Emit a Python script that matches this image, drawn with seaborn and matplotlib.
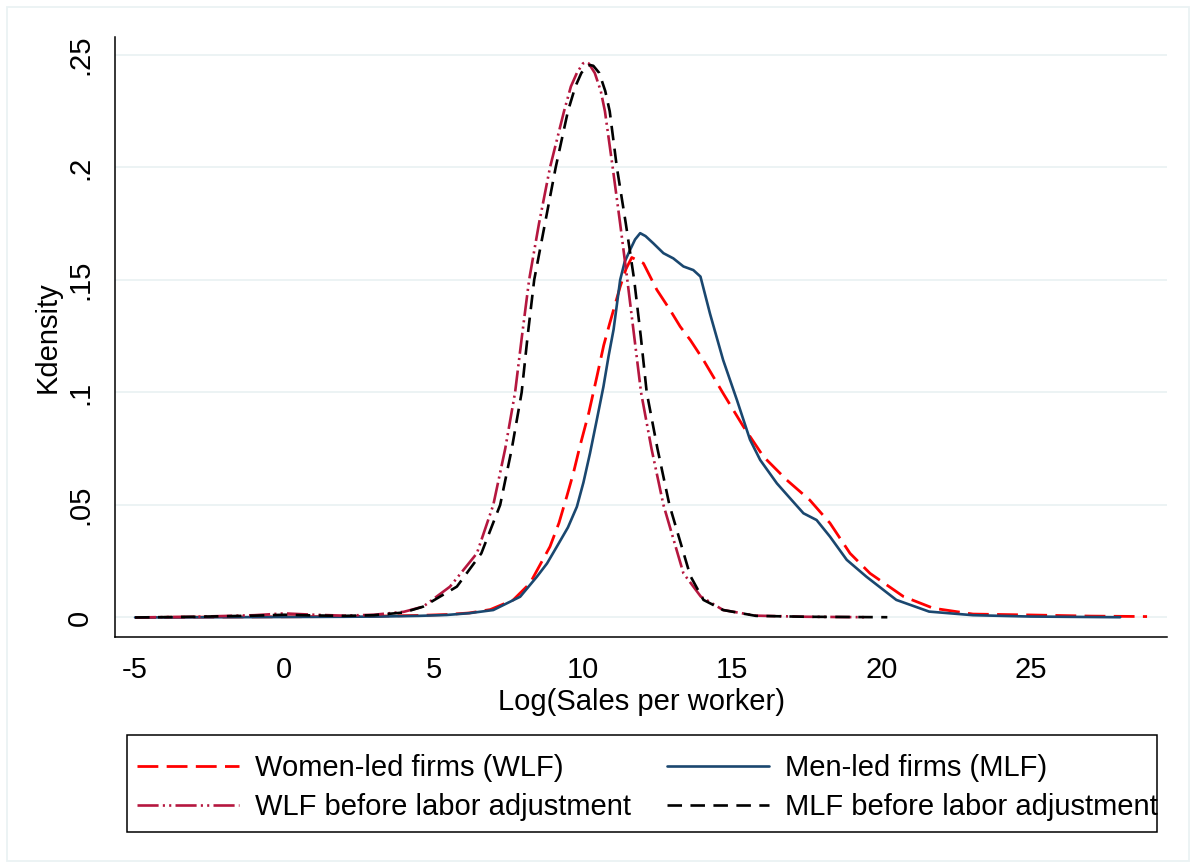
import matplotlib
matplotlib.use("Agg")
import matplotlib.pyplot as plt
import seaborn as sns
from matplotlib.patches import Rectangle

sns.set_style("white")
plt.rcParams['font.family'] = ['Liberation Sans', 'DejaVu Sans']
plt.rcParams['text.color'] = 'black'
plt.rcParams['axes.labelcolor'] = 'black'
plt.rcParams['xtick.color'] = 'black'
plt.rcParams['ytick.color'] = 'black'

# Women-led firms (WLF)
wlf_x = [-5, -2, 0, 2, 3.2, 4.5, 5.44, 6.2, 6.9, 7.67, 8.23, 8.9, 9.2, 9.46,
         9.68, 9.9, 10.2, 10.47, 10.7, 10.9, 11.25, 11.45, 11.64, 12.03, 12.48,
         12.92, 13.26, 13.6, 14.04, 14.7, 15.38, 16.05, 16.83, 17.6, 18.28,
         18.95, 19.62, 20.74, 21.74, 23.07, 25, 27, 28.9]
wlf_y = [0, 0.0002, 0.0003, 0.0004, 0.0006, 0.0009, 0.0013, 0.002, 0.0035,
         0.0078, 0.0152, 0.0315, 0.042, 0.0537, 0.064, 0.076, 0.091, 0.107,
         0.121, 0.1307, 0.147, 0.155, 0.160, 0.1574, 0.1456, 0.1367, 0.1293,
         0.1233, 0.1144, 0.0996, 0.0848, 0.0715, 0.0611, 0.0522, 0.0419,
         0.0285, 0.0196, 0.0093, 0.0041, 0.0015, 0.0011, 0.0006, 0.0004]

# Men-led firms (MLF)
mlf_x = [-5, -2, 0, 2, 3.2, 4.5, 5.44, 6.2, 7.0, 7.9, 8.46, 8.8, 9.13, 9.5,
         9.8, 10.02, 10.24, 10.47, 10.69, 10.86, 11.03, 11.25, 11.4, 11.58,
         11.75, 11.92, 12.1, 12.36, 12.7, 13.03, 13.37, 13.7, 13.94, 14.26,
         14.7, 15.16, 15.6, 15.94, 16.5, 16.94, 17.39, 17.83, 18.28, 18.84,
         19.5, 20.5, 21.6, 23.07, 25, 28]
mlf_y = [0, 0.0001, 0.0002, 0.0003, 0.0004, 0.0007, 0.0011, 0.0019, 0.0033,
         0.0092, 0.0181, 0.024, 0.0315, 0.040, 0.0492, 0.060, 0.073, 0.088,
         0.1026, 0.116, 0.128, 0.15, 0.158, 0.1633, 0.168, 0.1708, 0.1695,
         0.1663, 0.1619, 0.1596, 0.156, 0.1544, 0.1515, 0.135, 0.1144, 0.0967,
         0.079, 0.070, 0.0596, 0.053, 0.0463, 0.0433, 0.0359, 0.0256, 0.0181,
         0.0078, 0.0026, 0.001, 0.0004, 0.0001]

# WLF before labor adjustment
wlfb_x = [-5, -3, -1, 0, 1, 2, 3, 4, 4.65, 5.55, 6.45, 7.0, 7.4, 7.73, 7.96,
          8.2, 8.53, 8.9, 9.37, 9.6, 9.8, 10.0, 10.1, 10.2, 10.4, 10.6, 10.74,
          11.0, 11.25, 11.49, 11.72, 11.95, 12.3, 12.7, 13.37, 13.95, 14.7,
          15.8, 17.5, 19.5]
wlfb_y = [0, 0.0003, 0.001, 0.0018, 0.0012, 0.0008, 0.0012, 0.0025, 0.0048,
          0.0137, 0.0285, 0.05, 0.075, 0.1, 0.125, 0.15, 0.175, 0.2, 0.225,
          0.236, 0.242, 0.2462, 0.2468, 0.2462, 0.242, 0.234, 0.225, 0.2, 0.175,
          0.15, 0.125, 0.1, 0.075, 0.05, 0.0196, 0.0093, 0.0033, 0.0008, 0.0003,
          0.0001]

# MLF before labor adjustment
mlfb_x = [-5, -3, -1, 0, 1, 2, 3, 4, 4.65, 5.78, 6.6, 7.23, 7.62, 7.95, 8.15,
          8.37, 8.73, 9.09, 9.5, 9.75, 9.95, 10.15, 10.25, 10.35, 10.55, 10.75,
          10.9, 11.14, 11.44, 11.72, 11.94, 12.14, 12.5, 12.9, 13.6, 14.04,
          14.7, 15.8, 17.5, 20.2]
mlfb_y = [0, 0.0003, 0.0008, 0.0012, 0.0009, 0.0007, 0.001, 0.0022, 0.0048,
          0.0137, 0.0285, 0.05, 0.075, 0.1, 0.125, 0.15, 0.175, 0.2, 0.225,
          0.236, 0.242, 0.2452, 0.2455, 0.2452, 0.242, 0.234, 0.225, 0.2, 0.175,
          0.15, 0.125, 0.1, 0.075, 0.05, 0.0185, 0.0078, 0.0033, 0.0007, 0.0003,
          0.0001]

labels = ["Women-led firms (WLF)", "Men-led firms (MLF)",
          "WLF before labor adjustment", "MLF before labor adjustment"]
x_ticks = [-5, 0, 5, 10, 15, 20, 25]
y_ticks = [0, 0.05, 0.1, 0.15, 0.2, 0.25]
y_tick_labels = ["0", ".05", ".1", ".15", ".2", ".25"]

fig = plt.figure(figsize=(11.96, 8.68), dpi=100)
ax = fig.add_axes([0.0962, 0.2661, 0.8796, 0.6913])

sns.lineplot(x=wlf_x, y=wlf_y, ax=ax, color="#FF0000", lw=2.0,
             linestyle=(0, (7.5, 3)), errorbar=None)
sns.lineplot(x=mlf_x, y=mlf_y, ax=ax, color="#1A476F", lw=1.9,
             errorbar=None)
sns.lineplot(x=wlfb_x, y=wlfb_y, ax=ax, color="#B5173F", lw=1.9,
             linestyle=(0, (8, 1.6, 0.8, 1.6, 0.8, 1.6)), errorbar=None)
sns.lineplot(x=mlfb_x, y=mlfb_y, ax=ax, color="black", lw=1.9,
             linestyle=(0, (5.5, 3.2)), errorbar=None)

ax.set_xlim(-5.67, 29.57)
ax.set_ylim(-0.0087, 0.258)

ax.yaxis.grid(True, color="#EAF2F3", lw=1.3)
ax.xaxis.grid(False)
ax.set_axisbelow(True)
for side in ["top", "right"]:
    ax.spines[side].set_visible(False)
for side in ["left", "bottom"]:
    ax.spines[side].set_color("black")
    ax.spines[side].set_linewidth(1.1)

ax.set_xticks(x_ticks, [str(t) for t in x_ticks])
ax.set_yticks(y_ticks, y_tick_labels, rotation=90, va="center")
ax.tick_params(axis="both", direction="out", length=8, width=1.1,
               color="black", labelsize=21, labelcolor="black")
ax.tick_params(axis="x", pad=6)
ax.tick_params(axis="y", pad=7)

ax.set_xlabel("Log(Sales per worker)", fontsize=21, color="black")
ax.xaxis.label.set_va("center")
ax.xaxis.set_label_coords(0.5, -0.108)
ax.set_ylabel("Kdensity", fontsize=21, color="black")
ax.yaxis.label.set_va("center")
ax.yaxis.set_label_coords(-0.064, 0.5)

lines = ax.get_lines()
leg_kw = dict(loc="upper left", bbox_transform=fig.transFigure,
              frameon=False, borderpad=0, borderaxespad=0, handlelength=3.5,
              handletextpad=0.55, labelspacing=0.38, fontsize=21,
              labelcolor="black")
leg1 = ax.legend([lines[0], lines[2]], [labels[0], labels[2]],
                 bbox_to_anchor=(137 / 1196, 1 - 754 / 868), **leg_kw)
ax.add_artist(leg1)
ax.legend([lines[1], lines[3]], [labels[1], labels[3]],
          bbox_to_anchor=(667 / 1196, 1 - 754 / 868), **leg_kw)

# legend box and outer frame
fig.add_artist(Rectangle((127 / 1196, 1 - 832 / 868), 1030 / 1196, 97 / 868,
                         transform=fig.transFigure, fill=False,
                         ec="black", lw=1.1))
fig.add_artist(Rectangle((7 / 1196, 7 / 868), 1182 / 1196, 854 / 868,
                         transform=fig.transFigure, fill=False,
                         ec="#EAF2F3", lw=1.3))

fig.savefig("out.png", dpi=100)
